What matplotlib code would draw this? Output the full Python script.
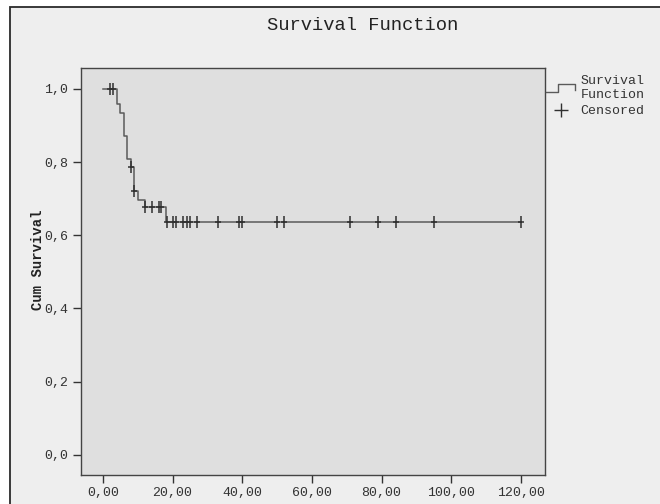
import matplotlib
matplotlib.use("Agg")
import matplotlib.pyplot as plt
from matplotlib.lines import Line2D
from matplotlib.patches import Rectangle
from matplotlib.path import Path
from matplotlib.legend_handler import HandlerBase

# Kaplan-Meier steps
step_t = [0, 4, 5, 6, 7, 8, 9, 10, 12, 18, 120]
step_s = [1.0, 0.958, 0.935, 0.872, 0.808, 0.786, 0.722, 0.697, 0.676, 0.637, 0.637]

# censored cases
cens_t = [2, 3, 8, 9, 12.2, 14, 16, 16.7, 18.3, 20.2, 21, 23, 24, 25, 27,
          33, 39, 40, 50, 52, 71, 79, 84, 95, 120]
cens_s = [1.0, 1.0, 0.786, 0.722, 0.676, 0.676, 0.676, 0.676,
          0.637, 0.637, 0.637, 0.637, 0.637, 0.637, 0.637,
          0.637, 0.637, 0.637, 0.637, 0.637, 0.637, 0.637, 0.637, 0.637, 0.637]

xticks = [0, 20, 40, 60, 80, 100, 120]
yticks = [0.0, 0.2, 0.4, 0.6, 0.8, 1.0]

plt.rcParams['font.family'] = ['Liberation Mono', 'DejaVu Sans Mono']
line_col = '#5a5a5a'
mark_col = '#303030'

# tall narrow plus, like the SPSS censor mark
tall_plus = Path([(-0.55, 0), (0.55, 0), (0, -1), (0, 1)],
                 [Path.MOVETO, Path.LINETO, Path.MOVETO, Path.LINETO])


class StepHandler(HandlerBase):
    def create_artists(self, legend, orig_handle, xd, yd, w, h, fontsize, trans):
        xs = [xd, xd + 0.4 * w, xd + 0.4 * w, xd + w, xd + w]
        ys = [yd + 0.1 * h, yd + 0.1 * h, yd + 0.9 * h, yd + 0.9 * h, yd + 0.3 * h]
        ln = Line2D(xs, ys, color=line_col, lw=1)
        ln.set_transform(trans)
        return [ln]


fig = plt.figure(figsize=(6.6, 5.04), dpi=100)
fig.patch.set_facecolor('white')
fig.patches.append(Rectangle((10 / 660, -0.1), 1.1, 1.1 - 8 / 504 + 0.001,
                             transform=fig.transFigure, facecolor='#eeeeee',
                             edgecolor='#2a2a2a', lw=1.3, zorder=-5))

ax = fig.add_axes([81 / 660, 29 / 504, (545 - 81) / 660, (475 - 68) / 504])
ax.set_facecolor('#dfdfdf')

ax.plot(step_t, step_s, drawstyle='steps-post', color=line_col, lw=1.1)
ax.plot(cens_t, cens_s, ls='none', marker=tall_plus, color=mark_col, ms=9, mew=1.1)

ax.set_xlim(-6.3, 126.9)
ax.set_ylim(-0.055, 1.057)
ax.set_xticks(xticks)
ax.set_xticklabels([('%.2f' % v).replace('.', ',') for v in xticks])
ax.set_yticks(yticks)
ax.set_yticklabels([('%.1f' % v).replace('.', ',') for v in yticks])
ax.tick_params(direction='out', length=6, width=1, color='#333333',
               labelsize=9.5, labelcolor='#333333', pad=3)
for s in ax.spines.values():
    s.set_color('#444444')
    s.set_linewidth(1)

ax.set_ylabel('Cum Survival', fontsize=10, fontweight='bold', color='#222222')
ax.yaxis.set_label_coords((45 - 81) / 464, (475 - 260) / 407)
fig.text(363 / 660, 1 - 25 / 504, 'Survival Function', ha='center', va='center',
         fontsize=13.5, color='#222222')

handles = [Line2D([], [], color=line_col),
           Line2D([], [], ls='none', marker='+', color=mark_col, ms=10, mew=1)]
leg = fig.legend(handles, ['Survival\nFunction', 'Censored'],
                 handler_map={handles[0]: StepHandler()},
                 loc='upper left', bbox_to_anchor=(541 / 660, 1 - 70 / 504),
                 frameon=False, fontsize=9.5, handlelength=2.2, handletextpad=0.4,
                 labelspacing=0.3, borderaxespad=0)
for t in leg.get_texts():
    t.set_color('#333333')

fig.savefig('out.png', dpi=100)
